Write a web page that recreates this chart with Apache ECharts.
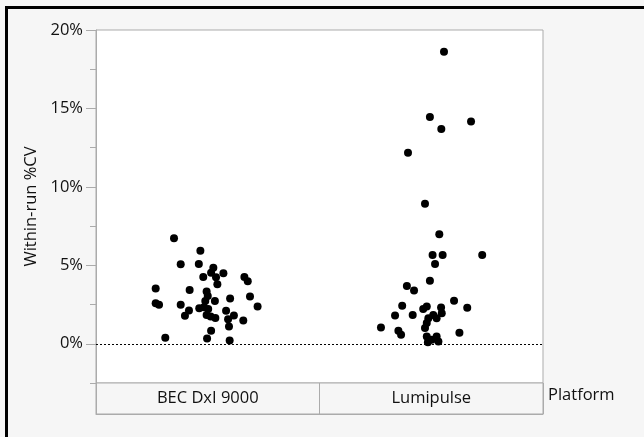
<!DOCTYPE html>
<html>
<head>
<meta charset="utf-8">
<script src="https://cdn.jsdelivr.net/npm/echarts@6/dist/echarts.min.js"></script>
<style>
html,body{margin:0;padding:0;background:#f6f6f6;}
#chart{width:644px;height:437px;}
</style>
</head>
<body>
<div id="chart"></div>
<script>
// ---- data ----
const categories = ['BEC DxI 9000', 'Lumipulse'];
const yTickValues = [0, 5, 10, 15, 20];
const yMinorTickValues = [-2.5, 2.5, 7.5, 12.5, 17.5];

// within-run %CV values (percent) and horizontal jitter (fraction of category width)
const becValues = [6.72,5.93,5.07,5.09,4.85,4.53,4.50,4.26,4.24,4.26,3.99,3.80,3.52,3.42,3.33,3.05,2.88,3.01,2.73,2.73,2.59,2.48,2.48,2.27,2.33,2.21,2.12,2.37,2.10,1.78,1.84,1.74,1.65,1.80,1.57,1.48,1.10,0.83,0.38,0.34,0.21];
const becJitter = [-0.151,-0.033,-0.121,-0.040,0.025,0.015,0.070,-0.020,0.037,0.164,0.179,0.043,-0.233,-0.081,-0.005,0.000,0.100,0.189,-0.011,0.032,-0.233,-0.218,-0.121,-0.038,-0.017,0.002,-0.084,0.223,0.082,-0.102,-0.005,0.013,0.034,0.117,0.091,0.159,0.095,0.015,-0.190,-0.003,0.098];

const lumiValues = [18.61,14.46,14.16,13.69,12.17,8.92,6.98,5.66,5.66,5.66,5.09,4.01,3.69,3.39,2.75,2.42,2.29,2.37,2.21,2.31,1.95,1.80,1.83,1.84,1.63,1.63,1.32,1.04,0.83,0.57,1.00,0.70,0.46,0.46,0.15,0.25,0.10];
const lumiJitter = [0.057,-0.006,0.178,0.045,-0.104,-0.028,0.036,0.006,0.051,0.228,0.017,-0.006,-0.109,-0.077,0.102,-0.130,0.161,-0.020,-0.036,0.044,0.047,-0.162,-0.083,0.009,0.024,-0.013,-0.020,-0.225,-0.147,-0.135,-0.028,0.126,-0.020,0.024,0.032,0.002,-0.015];

const FONT = 'Open Sans';
const FS = 16.5;
const GRAY = '#ababab';
const TEXT = '#111111';

const becData = becValues.map((v, i) => [1 + becJitter[i], v]);
const lumiData = lumiValues.map((v, i) => [2 + lumiJitter[i], v]);

const chart = echarts.init(document.getElementById('chart'), null, {renderer: 'canvas'});
chart.setOption({
  backgroundColor: '#f6f6f6',
  animation: false,
  textStyle: {fontFamily: FONT},
  graphic: [
    {type: 'rect', shape: {x: 5, y: 6, width: 639, height: 3}, style: {fill: '#000'}},
    {type: 'rect', shape: {x: 5, y: 6, width: 3, height: 431}, style: {fill: '#000'}}
  ],
  grid: [
    {left: 96, top: 30, width: 447, height: 353, show: true, backgroundColor: '#ffffff', borderColor: GRAY, borderWidth: 1},
    {left: 96, top: 383, width: 447, height: 31, show: true, backgroundColor: '#f6f6f6', borderColor: GRAY, borderWidth: 1}
  ],
  xAxis: [
    {type: 'value', gridIndex: 0, min: 0.5, max: 2.5, show: false},
    {type: 'category', gridIndex: 1, data: categories, position: 'bottom', boundaryGap: true,
     axisLine: {show: true, lineStyle: {color: GRAY}},
     axisTick: {show: false},
     splitLine: {show: true, lineStyle: {color: GRAY, width: 1}},
     axisLabel: {inside: true, margin: 7, color: TEXT, fontFamily: FONT, fontSize: FS},
     name: 'Platform', nameLocation: 'end', nameGap: 5,
     nameTextStyle: {color: TEXT, fontFamily: FONT, fontSize: FS, align: 'left', verticalAlign: 'bottom', padding: [0, 0, 10, 0]}
    }
  ],
  yAxis: [
    {type: 'value', gridIndex: 0, min: -2.5, max: 20,
     name: 'Within-run %CV', nameLocation: 'middle', nameGap: 55,
     nameTextStyle: {color: TEXT, fontFamily: FONT, fontSize: FS},
     axisLine: {show: true, lineStyle: {color: GRAY}},
     axisTick: {show: true, length: 10, lineStyle: {color: GRAY}, customValues: yTickValues},
     axisLabel: {color: TEXT, fontFamily: FONT, fontSize: FS, margin: 13, customValues: yTickValues, formatter: v => v + '%'},
     splitLine: {show: false}
    },
    {type: 'value', gridIndex: 0, min: -2.5, max: 20, position: 'left',
     axisLine: {show: false},
     axisTick: {show: true, length: 6, lineStyle: {color: GRAY}, customValues: yMinorTickValues},
     axisLabel: {show: false},
     splitLine: {show: false}
    },
    {type: 'value', gridIndex: 1, show: false, min: 0, max: 1}
  ],
  series: [
    {type: 'scatter', xAxisIndex: 0, yAxisIndex: 0, data: becData, symbolSize: 8,
     itemStyle: {color: '#000', opacity: 1},
     markLine: {silent: true, symbol: 'none', label: {show: false},
       lineStyle: {color: '#000', type: [2, 2], width: 1, opacity: 1}, data: [{yAxis: 0}]}
    },
    {type: 'scatter', xAxisIndex: 0, yAxisIndex: 0, data: lumiData, symbolSize: 8,
     itemStyle: {color: '#000', opacity: 1}}
  ]
});
</script>
</body>
</html>
